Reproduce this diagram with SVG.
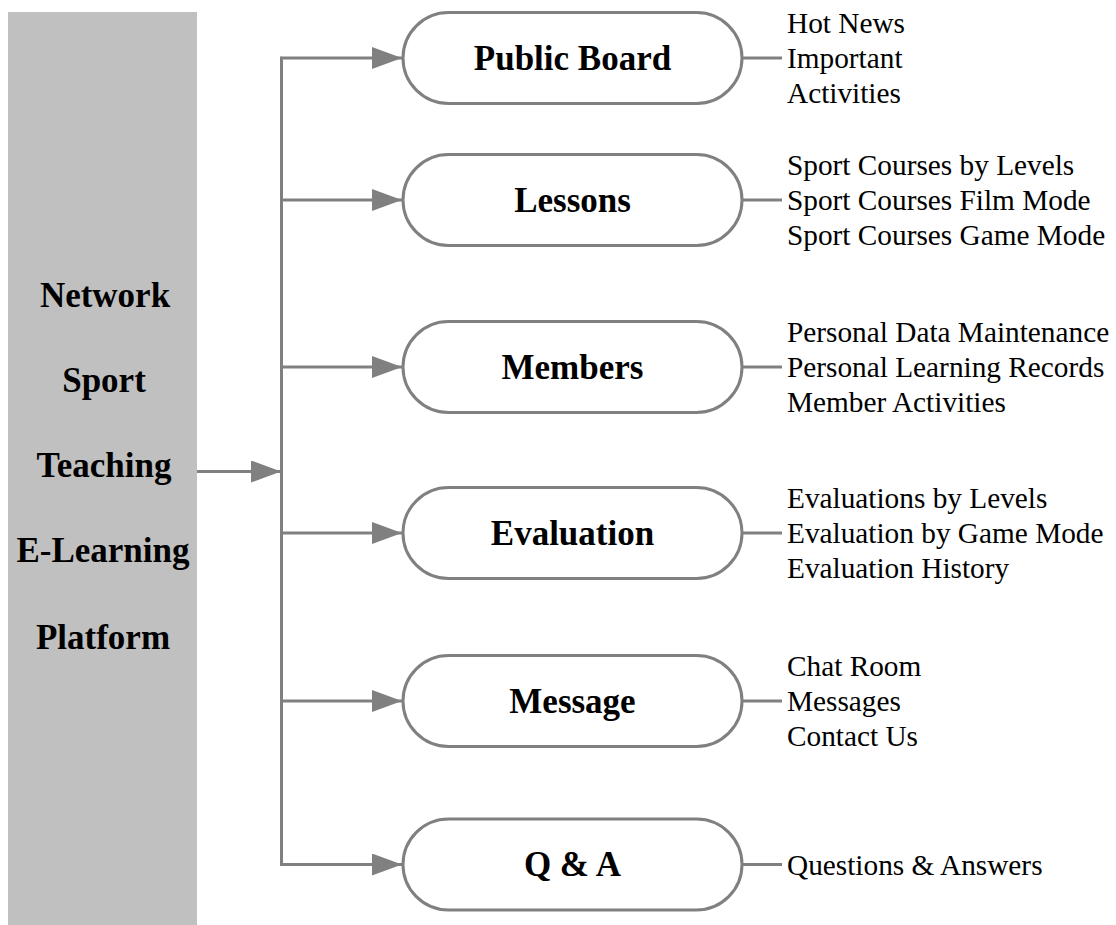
<svg xmlns="http://www.w3.org/2000/svg" width="1116" height="925" viewBox="0 0 1116 925">
  <defs>
    <marker id="arrow" markerUnits="userSpaceOnUse" markerWidth="32" markerHeight="22" refX="30" refY="11" orient="auto">
      <path d="M0,0 L30,11 L0,22 Z" fill="#808080"/>
    </marker>
    <style>
      .title { font-family: "Liberation Serif", "Times New Roman", serif; font-weight: bold; font-size: 35px; fill: #000; text-anchor: middle; }
      .item { font-family: "Liberation Serif", "Times New Roman", serif; font-size: 29.3px; fill: #000; }
      .pill { fill: #fff; stroke: #808080; stroke-width: 3; }
      .wire { fill: none; stroke: #808080; stroke-width: 3; }
    </style>
  </defs>
  <rect width="1116" height="925" fill="#fff"/>

  <!-- platform column -->
  <g id="platform">
    <rect x="8" y="12" width="189" height="913" fill="#c0c0c0"/>
    <text class="title" x="105" y="307">Network</text>
    <text class="title" x="104" y="392">Sport</text>
    <text class="title" x="104" y="477">Teaching</text>
    <text class="title" x="103" y="562">E-Learning</text>
    <text class="title" x="103" y="649">Platform</text>
  </g>

  <!-- connectors -->
  <g id="connectors">
    <line class="wire" x1="197" y1="471.5" x2="281" y2="471.5" marker-end="url(#arrow)"/>
    <polyline class="wire" points="282,58 281.5,58 281.5,864.5 282,864.5"/>
    <line class="wire" x1="281.5" y1="58" x2="402" y2="58" marker-end="url(#arrow)"/>
    <line class="wire" x1="281.5" y1="200" x2="402" y2="200" marker-end="url(#arrow)"/>
    <line class="wire" x1="281.5" y1="367" x2="402" y2="367" marker-end="url(#arrow)"/>
    <line class="wire" x1="281.5" y1="533" x2="402" y2="533" marker-end="url(#arrow)"/>
    <line class="wire" x1="281.5" y1="701" x2="402" y2="701" marker-end="url(#arrow)"/>
    <line class="wire" x1="281.5" y1="864.5" x2="402" y2="864.5" marker-end="url(#arrow)"/>
    <line class="wire" x1="742" y1="58" x2="782" y2="58"/>
    <line class="wire" x1="742" y1="200" x2="782" y2="200"/>
    <line class="wire" x1="742" y1="367" x2="782" y2="367"/>
    <line class="wire" x1="742" y1="533" x2="782" y2="533"/>
    <line class="wire" x1="742" y1="701" x2="782" y2="701"/>
    <line class="wire" x1="742" y1="864.5" x2="782" y2="864.5"/>
  </g>

  <g id="public-board">
    <rect class="pill" x="403" y="12.5" width="339" height="91" rx="45.5"/>
    <text class="title" x="572.5" y="70">Public Board</text>
    <text class="item" x="787" y="33">Hot News</text>
    <text class="item" x="787" y="68">Important</text>
    <text class="item" x="787" y="103">Activities</text>
  </g>

  <g id="lessons">
    <rect class="pill" x="403" y="154.5" width="339" height="91" rx="45.5"/>
    <text class="title" x="572.5" y="212">Lessons</text>
    <text class="item" x="787" y="175">Sport Courses by Levels</text>
    <text class="item" x="787" y="210">Sport Courses Film Mode</text>
    <text class="item" x="787" y="245">Sport Courses Game Mode</text>
  </g>

  <g id="members">
    <rect class="pill" x="403" y="321.5" width="339" height="91" rx="45.5"/>
    <text class="title" x="572.5" y="379">Members</text>
    <text class="item" x="787" y="342">Personal Data Maintenance</text>
    <text class="item" x="787" y="377">Personal Learning Records</text>
    <text class="item" x="787" y="412">Member Activities</text>
  </g>

  <g id="evaluation">
    <rect class="pill" x="403" y="487.5" width="339" height="91" rx="45.5"/>
    <text class="title" x="572.5" y="545">Evaluation</text>
    <text class="item" x="787" y="508">Evaluations by Levels</text>
    <text class="item" x="787" y="543">Evaluation by Game Mode</text>
    <text class="item" x="787" y="578">Evaluation History</text>
  </g>

  <g id="message">
    <rect class="pill" x="403" y="655.5" width="339" height="91" rx="45.5"/>
    <text class="title" x="572.5" y="713">Message</text>
    <text class="item" x="787" y="676">Chat Room</text>
    <text class="item" x="787" y="711">Messages</text>
    <text class="item" x="787" y="746">Contact Us</text>
  </g>

  <g id="qa">
    <rect class="pill" x="403" y="819" width="339" height="91" rx="45.5"/>
    <text class="title" x="572.5" y="876">Q &amp; A</text>
    <text class="item" x="787" y="875">Questions &amp; Answers</text>
  </g>
</svg>
